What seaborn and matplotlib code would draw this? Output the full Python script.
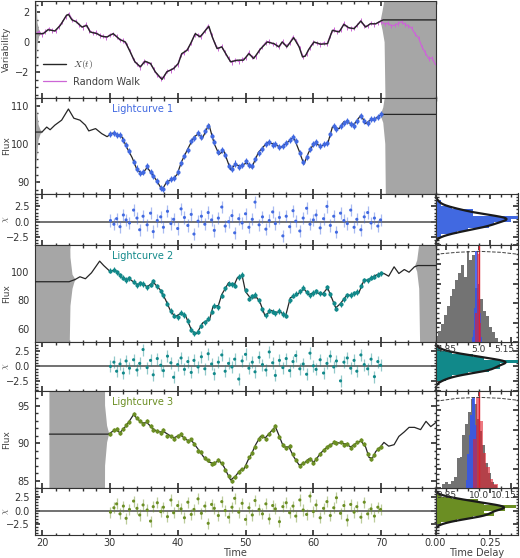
import numpy as np
import matplotlib
matplotlib.use("Agg")
import matplotlib.pyplot as plt
import seaborn as sns
from matplotlib.ticker import MultipleLocator, AutoMinorLocator
from matplotlib.transforms import ScaledTranslation

nan = np.nan

# ---- driving signal X(t) and the random walk ----
x_time = [19.0, 20.2, 20.9, 21.9, 22.7, 23.6, 23.9, 24.4, 25.1, 25.9, 26.6, 27.1, 28.1, 28.8,
          29.6, 30.5, 31.5, 32.3, 33.0, 33.7, 34.5, 35.2, 36.0, 36.7, 37.7, 38.4, 39.4, 40.1,
          40.6, 41.4, 41.9, 42.6, 43.3, 44.6, 45.1, 45.8, 46.5, 47.8, 48.8, 49.7, 50.5, 51.2,
          52.2, 53.2, 54.2, 54.9, 55.4, 56.1, 57.1, 57.9, 58.4, 58.8, 59.3, 60.1, 61.1, 62.1,
          62.8, 63.8, 64.5, 65.2, 66.0, 67.0, 67.7, 68.4, 69.2, 69.9, 70.3, 78.5]
x_value = [0.58, 0.58, 0.84, 0.76, 1.13, 1.80, 1.87, 1.51, 1.36, 1.02, 1.13, 0.69, 0.58, 0.40,
           0.36, 0.58, 0.18, 0.02, -0.64, -1.31, -1.64, -1.27, -1.42, -1.98, -2.49, -1.98, -1.76, -1.42,
           -0.76, -0.53, -0.09, 0.58, 0.36, 1.07, 0.36, -0.42, -0.31, -1.31, -1.20, -1.20, -0.76, -1.09,
           -0.45, 0.02, -0.09, -0.31, 0.02, -0.31, 0.31, -0.31, -0.98, -0.93, -0.49, 0.02, -0.13, -0.09,
           0.80, 0.69, 1.20, 0.98, 0.91, 1.42, 1.02, 1.24, 1.24, 1.42, 1.50, 1.50]

walk_time = [19.0, 19.5, 20.0, 20.5, 21.0, 21.5, 22.0, 22.5, 23.0, 23.5,
             24.0, 24.5, 25.0, 25.5, 26.0, 26.5, 27.0, 27.5, 28.0, 28.5,
             29.0, 29.5, 30.0, 30.5, 31.0, 31.5, 32.0, 32.5, 33.0, 33.5,
             34.0, 34.5, 35.0, 35.5, 36.0, 36.5, 37.0, 37.5, 38.0, 38.5,
             39.0, 39.5, 40.0, 40.5, 41.0, 41.5, 42.0, 42.5, 43.0, 43.5,
             44.0, 44.5, 45.0, 45.5, 46.0, 46.5, 47.0, 47.5, 48.0, 48.5,
             49.0, 49.5, 50.0, 50.5, 51.0, 51.5, 52.0, 52.5, 53.0, 53.5,
             54.0, 54.5, 55.0, 55.5, 56.0, 56.5, 57.0, 57.5, 58.0, 58.5,
             59.0, 59.5, 60.0, 60.5, 61.0, 61.5, 62.0, 62.5, 63.0, 63.5,
             64.0, 64.5, 65.0, 65.5, 66.0, 66.5, 67.0, 67.5, 68.0, 68.5,
             69.0, 69.5, 70.0, 70.5, 71.0, 71.5, 72.0, 72.5, 73.0, 73.5,
             74.0, 74.5, 75.0, 75.5, 76.0, 76.5, 77.0, 77.5, 78.0]
walk_value = [0.55, 0.70, 0.52, 0.72, 0.90, 0.80, 0.74, 1.05, 1.35, 1.72,
              1.90, 1.48, 1.42, 1.15, 1.00, 1.18, 0.80, 0.62, 0.66, 0.45,
              0.42, 0.30, 0.50, 0.56, 0.38, 0.15, 0.12, -0.18, -0.60, -1.18,
              -1.45, -1.70, -1.30, -1.38, -1.45, -1.82, -2.20, -2.42, -2.30, -1.92,
              -1.88, -1.70, -1.48, -0.85, -0.70, -0.42, -0.05, 0.52, 0.50, 0.40,
              0.75, 1.10, 0.48, -0.10, -0.45, -0.28, -0.70, -1.10, -1.35, -1.18,
              -1.28, -1.15, -1.05, -0.70, -1.00, -0.95, -0.55, -0.30, 0.00, 0.05,
              -0.12, -0.15, -0.30, 0.05, -0.25, -0.05, 0.35, 0.10, -0.40, -1.00,
              -0.80, -0.35, 0.00, -0.05, -0.15, -0.05, -0.10, 0.45, 0.85, 0.70,
              0.82, 1.25, 1.00, 0.92, 0.95, 1.15, 1.45, 1.10, 1.10, 1.28,
              1.20, 1.30, 1.40, 1.22, 1.28, 1.10, 1.15, 1.25, 1.38, 1.20,
              1.10, 0.95, 0.55, 0.30, -0.30, -0.70, -1.10, -1.05, -1.50]
walk_err = 0.15

# unconstrained (gray) regions of each panel, segments split by nan
band_var_t = [18.9, 19.15, 19.35, 19.6, 19.9, nan, 69.9, 70.2, 70.5, 70.8, 78.5]
band_var_lo = [-9, -1.8, -0.1, 0.4, 0.55, nan, 1.42, 0.8, 0.0, -9, -9]
band_var_hi = [9, 3.0, 1.3, 0.8, 0.62, nan, 1.42, 2.1, 2.9, 9, 9]

band1_t = [18.9, 19.2, 19.5, 19.8, 20.1, nan, 69.9, 70.3, 70.6, 70.9, 78.5]
band1_lo = [50, 95, 101, 102.6, 103.0, nan, 107.5, 105.5, 100, 50, 50]
band1_hi = [150, 110, 105, 103.6, 103.2, nan, 107.5, 109.5, 113, 150, 150]

band2_t = [18.9, 23.9, 24.2, 24.5, 24.8, 25.0, nan, 75.0, 75.3, 75.6, 75.9, 78.5]
band2_lo = [0, 0, 76, 88, 93.0, 94.5, nan, 103.8, 100, 88, 0, 0]
band2_hi = [200, 200, 110, 98, 95.6, 94.7, nan, 104.2, 108, 119, 200, 200]

band3_t = [21.1, 29.0, 29.3, 29.6, 29.9]
band3_lo = [0, 0, 87, 90.1, 91.2]
band3_hi = [200, 200, 95, 92.3, 91.3]

# ---- model curves of the three lightcurves ----
lc1_curve_t = [19.0, 20.0, 20.7, 21.2, 21.9, 22.9, 23.9, 24.7, 25.6, 26.4, 26.9, 27.9, 28.8, 29.6,
               30.3, 30.8, 31.8, 32.5, 33.3, 34.0, 34.8, 35.5, 36.3, 37.0, 37.7, 38.4, 39.2, 39.9,
               40.6, 41.6, 42.4, 43.1, 43.6, 44.6, 45.4, 46.1, 46.8, 47.8, 48.5, 49.2, 50.2, 50.9,
               51.9, 53.2, 54.2, 55.2, 55.9, 57.1, 57.9, 58.6, 59.3, 60.1, 61.1, 62.1, 62.8, 63.8,
               64.5, 65.2, 66.0, 67.0, 67.7, 68.4, 69.2, 69.9, 70.3, 78.5]
lc1_curve_v = [103.1, 103.1, 104.4, 103.7, 104.9, 106.2, 109.1, 106.7, 106.2, 104.9, 103.4, 104.0, 102.7, 101.9,
               102.8, 102.7, 101.8, 99.1, 96.4, 93.3, 92.2, 93.9, 92.0, 90.2, 88.0, 90.2, 90.7, 92.0,
               95.5, 99.1, 101.8, 102.7, 101.3, 105.1, 100.0, 97.3, 98.2, 93.3, 94.7, 94.2, 95.1, 93.8,
               97.8, 100.4, 100.0, 99.1, 100.0, 101.8, 98.2, 94.7, 97.8, 100.2, 99.5, 100.0, 104.4, 104.0,
               105.8, 105.5, 105.1, 107.5, 105.3, 106.2, 106.7, 107.5, 107.7, 107.7]

lc2_curve_t = [18.9, 24.0, 24.9, 25.6, 26.4, 27.3, 28.5, 29.1, 30.0, 30.8, 32.0, 33.0, 34.0, 34.8,
               35.5, 36.4, 37.4, 38.2, 38.9, 39.6, 40.4, 41.1, 42.1, 42.8, 43.7, 44.7, 45.2, 46.0,
               46.5, 47.5, 48.3, 48.8, 49.5, 50.0, 50.7, 51.7, 52.2, 52.9, 53.7, 54.4, 55.2, 55.9,
               56.6, 57.6, 58.6, 59.3, 60.3, 61.3, 62.1, 62.8, 63.3, 64.0, 64.8, 65.7, 66.7, 67.4,
               68.2, 68.9, 69.7, 70.4, 71.1, 71.9, 72.6, 73.4, 74.1, 74.9, 75.4, 78.5]
lc2_curve_v = [93.0, 93.0, 94.6, 96.5, 95.1, 99.3, 107.5, 104.4, 100.4, 101.2, 95.1, 94.6, 91.1, 91.8,
               89.4, 92.7, 87.5, 80.5, 73.0, 68.3, 70.6, 69.9, 58.2, 56.5, 64.1, 66.4, 75.4, 76.3,
               84.0, 92.3, 90.4, 95.8, 97.4, 86.0, 81.7, 81.7, 77.7, 68.7, 73.0, 71.6, 71.6, 68.7,
               81.7, 84.0, 88.0, 84.0, 85.6, 84.0, 88.7, 80.5, 74.6, 77.7, 82.8, 84.0, 85.2, 93.4,
               94.6, 96.9, 98.6, 98.8, 96.9, 103.5, 98.8, 101.6, 99.7, 103.5, 104.4, 104.4]

lc3_curve_t = [21.1, 29.8, 30.8, 31.5, 32.3, 33.0, 33.5, 34.0, 34.7, 35.5, 36.3, 37.0, 38.0, 38.7,
               39.4, 40.4, 41.4, 42.1, 43.1, 43.8, 44.6, 45.3, 46.1, 46.8, 47.3, 47.8, 48.5, 49.2,
               49.8, 50.4, 50.9, 51.5, 52.2, 52.9, 53.7, 54.4, 54.9, 55.6, 56.4, 57.1, 57.9, 58.6,
               59.3, 60.1, 61.1, 61.8, 62.5, 63.3, 64.0, 64.8, 65.5, 66.2, 67.0, 67.7, 68.2, 68.7,
               69.2, 69.7, 70.4, 71.1, 71.9, 72.6, 73.4, 74.1, 74.9, 75.8, 76.6, 77.3, 78.0, 78.5]
lc3_curve_v = [91.2, 91.2, 91.8, 91.4, 92.2, 93.1, 93.8, 93.3, 92.7, 92.7, 92.0, 91.5, 91.5, 91.1,
               90.7, 91.1, 90.4, 90.3, 89.1, 88.2, 87.5, 87.3, 87.7, 86.9, 86.0, 85.1, 85.6, 86.4,
               86.6, 87.8, 88.6, 89.8, 90.9, 90.7, 91.5, 92.2, 91.1, 89.5, 89.5, 88.2, 87.1, 87.3,
               87.9, 87.5, 88.7, 89.3, 89.8, 90.1, 90.0, 89.9, 89.5, 89.9, 90.3, 89.5, 88.1, 88.0,
               88.9, 89.3, 90.1, 89.6, 89.8, 90.9, 91.5, 92.1, 92.1, 91.8, 92.9, 92.2, 92.7, 92.9]

# ---- observations (same epochs for the three lightcurves) ----
obs_time = [30.1, 30.6, 31.0, 31.5, 32.0, 32.4, 32.9, 33.5, 34.0,
            34.4, 34.9, 35.5, 36.0, 36.4, 37.0, 37.5, 37.9, 38.5,
            39.0, 39.4, 40.0, 40.5, 41.0, 41.5, 42.0, 42.4, 43.0,
            43.5, 44.0, 44.5, 45.0, 45.4, 46.0, 46.5, 47.0, 47.5,
            48.0, 48.4, 49.0, 49.5, 50.0, 50.5, 51.0, 51.4, 52.0,
            52.5, 53.0, 53.5, 54.0, 54.4, 55.0, 55.5, 56.0, 56.5,
            57.0, 57.4, 58.0, 58.5, 59.0, 59.5, 60.0, 60.4, 61.0,
            61.5, 62.0, 62.5, 63.0, 63.4, 64.0, 64.5, 65.0, 65.5,
            66.0, 66.4, 67.0, 67.5, 68.0, 68.5, 69.0, 69.5, 69.9]

lc1_flux = [102.6, 102.9, 102.3, 102.4, 101.0, 99.8, 98.2, 95.4, 93.6,
            92.4, 92.6, 94.3, 92.7, 91.6, 90.4, 88.6, 88.3, 90.0,
            90.9, 91.2, 92.6, 95.0, 96.8, 98.4, 100.8, 101.5, 102.9,
            101.8, 103.4, 104.7, 102.1, 100.6, 97.9, 98.5, 97.2, 94.3,
            93.6, 94.9, 94.0, 94.6, 95.6, 94.5, 94.2, 96.1, 97.6,
            98.6, 100.1, 100.6, 99.7, 99.9, 99.3, 99.4, 100.2, 101.0,
            101.9, 100.8, 97.6, 95.2, 96.5, 98.6, 99.9, 100.4, 99.4,
            99.9, 100.3, 102.6, 104.7, 104.0, 104.6, 105.4, 105.9, 105.2,
            104.8, 106.0, 107.2, 106.0, 105.4, 106.5, 106.4, 107.0, 107.7]
lc2_flux = [100.8, 101.5, 99.6, 97.4, 95.8, 94.2, 95.3, 93.1, 90.6,
            92.0, 91.4, 89.2, 91.0, 93.4, 89.8, 86.3, 83.5, 77.6,
            72.4, 69.1, 68.2, 71.3, 69.6, 65.4, 59.3, 56.8, 57.9,
            62.0, 64.5, 66.9, 71.8, 76.1, 75.2, 83.1, 88.4, 91.7,
            91.1, 90.2, 96.3, 97.8, 86.9, 80.9, 82.7, 83.9, 79.8,
            73.6, 69.5, 72.6, 71.9, 70.8, 72.4, 70.3, 69.0, 79.9,
            83.1, 84.6, 86.2, 88.9, 85.7, 83.6, 85.1, 86.4, 84.8,
            84.5, 89.1, 84.3, 77.8, 74.1, 77.0, 80.6, 83.5, 83.7,
            84.9, 85.8, 90.2, 93.9, 94.1, 95.8, 96.5, 98.0, 99.1]
lc3_flux = [91.2, 91.7, 91.9, 91.3, 91.9, 92.4, 92.8, 93.9, 93.4,
            93.0, 92.5, 92.9, 92.3, 91.8, 91.6, 91.3, 91.7, 91.0,
            90.9, 90.6, 91.0, 91.2, 90.7, 90.3, 90.5, 89.9, 89.0,
            88.8, 88.0, 87.7, 87.2, 87.4, 87.8, 87.3, 86.4, 85.7,
            85.0, 85.5, 86.2, 86.5, 86.9, 88.1, 88.7, 89.5, 90.6,
            90.9, 90.5, 91.2, 91.8, 92.3, 90.8, 89.8, 89.4, 89.6,
            88.5, 87.8, 87.0, 87.4, 87.6, 87.9, 87.4, 87.9, 88.5,
            89.1, 89.5, 89.7, 90.2, 90.0, 90.1, 89.8, 89.9, 89.4,
            89.8, 90.1, 90.4, 89.9, 88.6, 87.9, 88.4, 89.2, 89.5]
flux_err = [0.8, 1.8, 0.25]

resid1 = [0.2, -0.4, 0.5, -0.8, 1.1, 0.3, -0.2, 1.9, 0.6,
          -1.3, 0.9, -0.5, 1.4, -1.6, 0.2, 0.8, -0.9, 1.7,
          -0.3, 0.4, -1.1, 2.1, 0.7, -0.6, 1.2, -2.0, 0.1,
          0.9, -0.4, 1.5, 0.3, -1.4, 0.6, 2.4, -0.7, 0.0,
          1.0, -1.8, 0.5, -0.2, 1.3, -0.9, 0.4, 3.2, -0.5,
          0.8, -1.2, 0.2, 1.6, -0.3, 0.7, -2.3, 0.9, -0.8,
          1.8, 0.1, -1.5, 0.6, 2.2, -0.4, 0.3, 1.1, -1.0,
          0.5, 2.5, -0.6, 0.9, -1.7, 1.4, 0.2, -0.3, 1.9,
          -0.9, 0.4, -1.3, 0.8, 1.5, -0.2, 0.6, -0.7, 0.3]
resid2 = [-0.1, 0.6, -0.9, 0.3, -1.2, 0.8, -0.4, 1.0, -0.7,
          0.4, 2.7, -0.3, 0.9, -1.5, 1.2, 0.1, -0.8, 1.6,
          0.5, -1.9, 0.2, 1.3, -0.6, 0.7, -1.1, 0.9, -0.2,
          1.5, -0.5, 2.0, 0.3, -1.3, 0.6, 1.8, -0.9, 0.4,
          -0.2, 1.1, -2.2, 0.8, 1.9, -0.4, 0.6, -1.0, 1.4,
          0.2, -0.7, 2.3, 0.5, -1.6, 0.9, -0.3, 1.2, -0.8,
          0.7, 1.7, -0.5, 0.3, -1.4, 2.1, 0.0, -0.6, 1.0,
          -1.2, 0.4, 1.6, -0.2, 0.8, -2.5, 0.6, 1.3, -0.4,
          0.9, -0.9, 1.8, 0.2, -0.5, 1.1, -1.8, 0.7, 0.1]
resid3 = [-0.3, 0.5, 1.2, -0.6, 0.8, -1.4, 0.2, 1.7, 0.4,
          -0.8, 1.0, 0.1, -1.9, 0.7, 1.4, -0.2, 0.6, -1.1,
          1.9, -0.4, 0.9, 0.3, -1.3, 1.5, -0.7, 0.2, 2.1,
          -0.5, 0.8, -2.3, 1.1, 0.4, -0.9, 1.6, 0.0, -1.2,
          0.6, 2.2, -0.3, 1.3, -1.6, 0.5, -0.8, 1.8, 0.2,
          -0.6, 1.2, -1.5, 0.9, 0.3, -2.0, 0.7, 1.4, -0.4,
          0.8, -1.0, 1.9, 0.1, -0.7, 2.6, -0.2, 1.0, -1.3,
          0.4, 1.6, -0.9, 0.5, 2.3, -0.5, 0.9, -1.7, 1.1,
          -0.3, 0.7, -1.2, 1.5, -0.6, 0.3, -1.0, 0.6, 0.2]
resid_err = 1.0

# ---- time delay posteriors (normalised bin heights) ----
true_delay = [5.0, 10.0]

td2_gray_edges = [4.800, 4.813, 4.826, 4.839, 4.852, 4.865, 4.878, 4.891, 4.904, 4.917, 4.930, 4.943,
                  4.956, 4.969, 4.982, 4.995, 5.008, 5.021, 5.034, 5.047, 5.060, 5.073, 5.086]
td2_gray_h = [0.06, 0.11, 0.18, 0.28, 0.37, 0.47, 0.54, 0.64, 0.71, 0.79, 0.67, 0.93,
              0.84, 0.89, 0.55, 0.44, 0.44, 0.32, 0.27, 0.15, 0.10, 0.04]
td2_blue_edges = [4.966, 4.972, 4.978, 4.984, 4.990, 4.996, 5.002, 5.008, 5.014]
td2_blue_h = [0.05, 0.12, 0.35, 0.93, 0.93, 0.60, 0.30, 0.05]
td2_red_edges = [4.984, 4.990, 4.996, 5.002, 5.008]
td2_red_h = [0.30, 0.93, 0.90, 0.20]
td2_prior_x = [4.80, 4.90, 5.00, 5.10, 5.18]
td2_prior_y = [0.90, 0.92, 0.93, 0.92, 0.90]

td3_gray_edges = [9.832, 9.845, 9.858, 9.871, 9.884, 9.897, 9.911, 9.924, 9.937, 9.950,
                  9.963, 9.976, 9.989, 10.002, 10.015, 10.028, 10.041, 10.054, 10.068, 10.081]
td3_gray_h = [0.04, 0.06, 0.04, 0.07, 0.12, 0.31, 0.32, 0.54, 0.66, 0.78,
              0.91, 0.86, 0.71, 0.59, 0.44, 0.26, 0.16, 0.06, 0.03]
td3_blue_edges = [9.940, 9.947, 9.954, 9.961, 9.968, 9.975, 9.982, 9.989]
td3_blue_h = [0.08, 0.35, 0.55, 0.75, 0.93, 0.93, 0.65]
td3_red_edges = [9.973, 9.985, 10.001, 10.017, 10.033, 10.049, 10.065, 10.090]
td3_red_h = [0.50, 0.93, 0.69, 0.36, 0.22, 0.10, 0.04]
td3_prior_x = [9.80, 9.90, 10.00, 10.10, 10.18]
td3_prior_y = [0.89, 0.92, 0.93, 0.92, 0.90]

lc_names = ["Lightcurve 1", "Lightcurve 2", "Lightcurve 3"]
lc_colors = ["#4169e1", "#11898a", "#6b8e23"]
c_walk = "#cc66d6"
c_model = "0.15"
c_band = "#a6a6a6"
c_red = "#e0202e"

sns.set_theme(style="ticks")
plt.rcParams.update({
    "font.family": ["DejaVu Sans"],
    "font.size": 7, "axes.labelsize": 6.5, "xtick.labelsize": 7, "ytick.labelsize": 7,
    "legend.fontsize": 7, "mathtext.fontset": "cm",
    "xtick.direction": "in", "ytick.direction": "in",
    "xtick.top": True, "ytick.right": True,
    "xtick.major.size": 3.5, "ytick.major.size": 3.5,
    "xtick.minor.size": 1.8, "ytick.minor.size": 1.8,
    "xtick.major.pad": 2, "ytick.major.pad": 3.7,
    "axes.linewidth": 0.8, "axes.edgecolor": "0.2",
    "text.color": "0.25", "axes.labelcolor": "0.25",
    "xtick.color": "0.2", "ytick.color": "0.2",
})

W, H = 520, 558
rows = [(0.5, 97.5), (97.5, 193.5), (193.5, 244.5), (244.5, 342.0),
        (342.0, 390.5), (390.5, 488.3), (488.3, 535.0)]


def box(row, left=34.5, right=435.5):
    top, bottom = rows[row]
    return [left / W, 1 - bottom / H, (right - left) / W, (bottom - top) / H]


fig = plt.figure(figsize=(5.2, 5.58), dpi=100)
main = [fig.add_axes(box(i)) for i in range(7)]


def time_axis(ax, ylim, ystep, ylabel, last=False):
    ax.set_xlim(18.9, 78.0)
    ax.set_ylim(*ylim)
    ax.xaxis.set_major_locator(MultipleLocator(10))
    ax.xaxis.set_minor_locator(AutoMinorLocator(5))
    ax.yaxis.set_major_locator(MultipleLocator(ystep))
    ax.yaxis.set_minor_locator(AutoMinorLocator())
    ax.tick_params(which="both", labelbottom=last)
    ax.set_ylabel(ylabel)
    ax.yaxis.set_label_coords(-0.059, 0.5)
    ax.set_xlabel("Time" if last else "", labelpad=0, fontsize=7)


# variability panel
ax = main[0]
ax.fill_between(band_var_t, band_var_lo, band_var_hi, color=c_band, lw=0, zorder=1)
ax.errorbar(walk_time, walk_value, yerr=walk_err, fmt="none", ecolor=c_walk, elinewidth=0.7, zorder=2)
sns.lineplot(x=walk_time, y=walk_value, color=c_walk, lw=0.9, ax=ax, label="Random Walk", zorder=2)
sns.lineplot(x=x_time, y=x_value, color=c_model, lw=1.0, ax=ax, label="$X(t)$", zorder=3)
h, l = ax.get_legend_handles_labels()
ax.legend(h[::-1], l[::-1], loc="lower left", bbox_to_anchor=(0.0, 0.02), frameon=False,
          handlelength=2.3, labelspacing=0.6)
time_axis(ax, (-3.7, 2.8), 2, "Variability")

lc_curve_t = [lc1_curve_t, lc2_curve_t, lc3_curve_t]
lc_curve_v = [lc1_curve_v, lc2_curve_v, lc3_curve_v]
lc_flux = [lc1_flux, lc2_flux, lc3_flux]
bands = [(band1_t, band1_lo, band1_hi), (band2_t, band2_lo, band2_hi), (band3_t, band3_lo, band3_hi)]
resids = [resid1, resid2, resid3]
flux_lims = [(87.1, 112.1), (50.6, 119.2), (84.0, 97.0)]
flux_steps = [10, 20, 5]
resid_lims = [(-3.7, 4.6), (-4.1, 3.95), (-4.4, 4.0)]

for i in range(3):
    color = lc_colors[i]
    ax = main[1 + 2 * i]
    bt, blo, bhi = bands[i]
    ax.fill_between(bt, blo, bhi, color=c_band, lw=0, zorder=1)
    sns.lineplot(x=lc_curve_t[i], y=lc_curve_v[i], color=c_model, lw=0.9, ax=ax, zorder=3)
    ax.errorbar(obs_time, lc_flux[i], yerr=flux_err[i], fmt="o", ms=2.0, color=color,
                elinewidth=0.8, capsize=0, zorder=4)
    ax.text(0.27, 0.88, lc_names[i], color=color, fontsize=7, ha="center", va="center",
            transform=ax.transAxes)
    time_axis(ax, flux_lims[i], flux_steps[i], "Flux")

    ax = main[2 + 2 * i]
    ax.axhline(0, color="0.35", lw=1.2, zorder=1)
    ax.errorbar(obs_time, resids[i], yerr=resid_err, fmt="none", ecolor=color, alpha=0.45,
                elinewidth=0.9, zorder=2)
    sns.scatterplot(x=obs_time, y=resids[i], color=color, s=5, edgecolor="none", ax=ax, zorder=3)
    time_axis(ax, resid_lims[i], 2.5, r"$\chi$", last=(i == 2))

    # residual distribution on the right
    hx = fig.add_axes(box(2 + 2 * i, left=435.5, right=518))
    sns.histplot(y=resids[i], stat="density", bins=14, binrange=(-3.5, 3.5), color=color,
                 element="step", alpha=1, linewidth=0, ax=hx)
    sns.kdeplot(y=resids[i], color="k", lw=1.6, ax=hx)
    hx.set_ylim(*resid_lims[i])
    hx.set_xlim(0, 0.38)
    hx.yaxis.set_major_locator(MultipleLocator(2.5))
    hx.yaxis.set_minor_locator(AutoMinorLocator())
    hx.xaxis.set_major_locator(MultipleLocator(0.25))
    hx.xaxis.set_minor_locator(AutoMinorLocator(5))
    hx.xaxis.set_major_formatter("{x:.2f}")
    hx.tick_params(which="both", labelleft=False, labelbottom=(i == 2))
    hx.set_ylabel("")
    hx.set_xlabel("Time Delay" if i == 2 else "", labelpad=0, fontsize=7)

# time delay posteriors
td_sets = [
    (td2_gray_edges, td2_gray_h, td2_blue_edges, td2_blue_h, td2_red_edges, td2_red_h,
     td2_prior_x, td2_prior_y, (4.80, 5.18), [4.85, 5.0, 5.15], ["4.85", "5.0", "5.15"]),
    (td3_gray_edges, td3_gray_h, td3_blue_edges, td3_blue_h, td3_red_edges, td3_red_h,
     td3_prior_x, td3_prior_y, (9.80, 10.18), [9.85, 10.0, 10.15], ["9.85", "10.0", "10.15"]),
]
for k, (ge, gh, be, bh, re_, rh, px, py, xlim, ticks, labels) in enumerate(td_sets):
    tx = fig.add_axes(box(3 + 2 * k, left=435.5, right=518))
    tx.set_zorder(5)
    sns.histplot(x=ge[:-1], weights=gh, bins=ge, color="0.45", alpha=1, linewidth=0, ax=tx)
    sns.histplot(x=be[:-1], weights=bh, bins=be, color="#3355ee", alpha=0.85, linewidth=0, ax=tx)
    sns.histplot(x=re_[:-1], weights=rh, bins=re_, color=c_red, alpha=0.6, linewidth=0, ax=tx)
    tx.axvline(true_delay[k], color=c_red, lw=1.0)
    sns.lineplot(x=px, y=py, color="0.25", lw=0.7, ls="--", ax=tx)
    tx.set_xlim(*xlim)
    tx.set_ylim(0, 1.0)
    tx.set_xticks(ticks, labels)
    tx.xaxis.set_minor_locator(MultipleLocator(0.05))
    tx.yaxis.set_minor_locator(AutoMinorLocator())
    tx.tick_params(which="both", labelleft=False)
    tx.tick_params(axis="x", labelsize=6.5)
    tx.set_ylabel("")
    tx.set_xlabel("")
    # keep the last tick label inside the figure
    last_label = tx.get_xticklabels()[-1]
    last_label.set_transform(last_label.get_transform()
                             + ScaledTranslation(-0.075, 0, fig.dpi_scale_trans))

fig.savefig("out.png", dpi=100)
